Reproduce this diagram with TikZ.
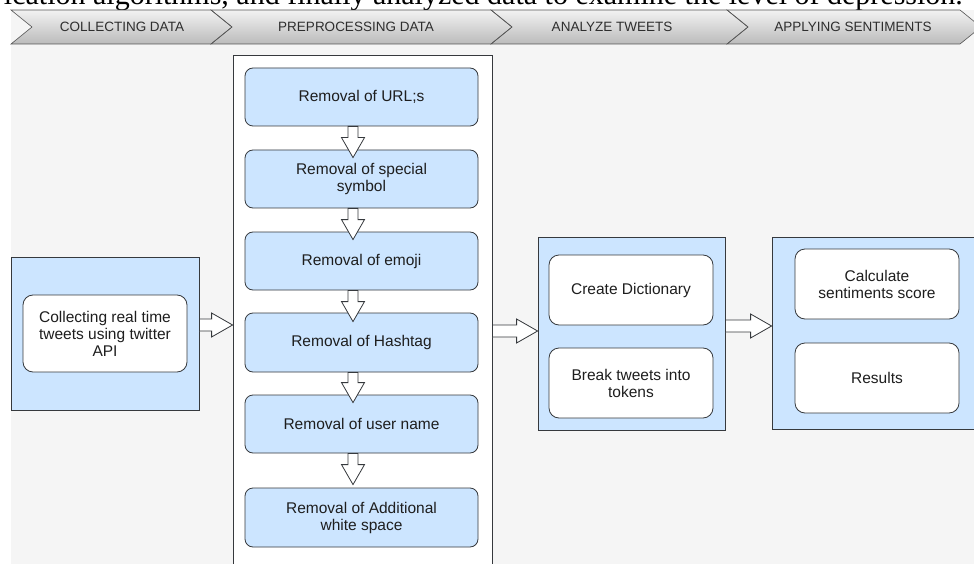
\documentclass[tikz,border=0pt]{standalone}
\usepackage{fontspec}
\setmainfont{Liberation Sans}
\newfontfamily\captserif{Liberation Serif}
\usetikzlibrary{calc}
\definecolor{bgray}{HTML}{F5F5F5}
\definecolor{lblue}{HTML}{CCE5FF}
\definecolor{edge}{HTML}{36393D}
\definecolor{txt}{HTML}{1E1E1E}
\definecolor{chevtop}{HTML}{F2F2F2}
\definecolor{chevbot}{HTML}{BCBCBC}
\definecolor{chevedge}{HTML}{555555}
\definecolor{chevtext}{HTML}{2E2E2E}
\newcommand\boxfont{\fontsize{15.5}{17}\selectfont}
\newcommand\chevfont{\fontsize{13.5}{15}\selectfont}
\newcommand\harrow[2]{\draw[blk] let \p1=(#1), \p2=(#2) in
  (\x1,\y1+6pt) -- (\x2-21pt,\y1+6pt) -- (\x2-21pt,\y1+12pt) -- (\x2,\y1)
  -- (\x2-21pt,\y1-12pt) -- (\x2-21pt,\y1-6pt) -- (\x1,\y1-6pt) -- cycle;}
\newcommand\varrow[2]{\draw[blk] let \p1=(#1), \p2=(#2) in
  (\x1-5pt,\y1) -- (\x1-5pt,\y2+20pt) -- (\x1-11.5pt,\y2+20pt) -- (\x1,\y2)
  -- (\x1+11.5pt,\y2+20pt) -- (\x1+5pt,\y2+20pt) -- (\x1+5pt,\y1) -- cycle;}
\begin{document}
\begin{tikzpicture}[x=1pt,y=-1pt,
  container/.style={draw=edge, line width=0.8pt, fill=lblue, rectangle, inner sep=0pt},
  whitebox/.style={draw=edge, line width=0.8pt, fill=white, rounded corners=10pt,
    minimum width=164pt, minimum height=70pt, align=center, font=\boxfont, text=txt},
  bluebox/.style={draw=edge, line width=0.8pt, fill=lblue, rounded corners=8pt,
    minimum width=233pt, minimum height=58pt, align=center, font=\boxfont, text=txt},
  chevline/.style={draw=chevedge, line width=0.6pt},
  chevlabel/.style={font=\chevfont, text=chevtext, inner sep=0pt},
  blk/.style={draw=edge, line width=0.8pt, fill=white, line join=miter},
]
\useasboundingbox (0,0) rectangle (974,564);
\clip (0,0) rectangle (974,564);
\fill[bgray] (11,10) rectangle (974,564);

% cut-off caption line at the top
\begin{scope}
  \clip (0,0) rectangle (974,10);
  \node[anchor=base east, inner sep=0pt, font=\captserif\fontsize{30}{30}\selectfont] (cap) at (963,5)
    {ication algorithms, and finally analyzed data to examine the level of depression.};
\end{scope}

% phase chevrons (vertical gradient built from strips)
\begin{scope}
  \clip (11,10) -- (960,10) -- (981,27) -- (960,44) -- (11,44) -- (32,27) -- cycle;
  \foreach \i in {0,...,33} {
    \pgfmathsetmacro\pct{100-3*\i}
    \fill[chevtop!\pct!chevbot] (0,10+\i) rectangle (990,11.2+\i);
  }
\end{scope}
\foreach \a/\b in {11/211, 211/491, 491/727, 727/960} {
  \draw[chevline, line join=miter] (\a,10) -- (\b,10) -- (\b+21,27) -- (\b,44) -- (\a,44) -- (\a+21,27) -- cycle;
}
\node[chevlabel] (h1) at (122,27) {COLLECTING DATA};
\node[chevlabel] (h2) at (356,27) {PREPROCESSING DATA};
\node[chevlabel] (h3) at (612,27) {ANALYZE TWEETS};
\node[chevlabel] (h4) at (853,27) {APPLYING SENTIMENTS};

% collecting
\node[container, minimum width=188pt, minimum height=153pt] (col) at (105,333.5) {};
\node[whitebox, minimum height=77pt] (c1) at (105,333.5) {Collecting real time\\tweets using twitter\\API};

% preprocessing
\node[container, fill=white, minimum width=259pt, minimum height=545pt] (pre) at (362.5,327.5) {};
\node[bluebox] (u1) at (361.5,97) {Removal of URL;s};
\node[bluebox] (u2) at (361.5,179) {Removal of special\\symbol};
\node[bluebox] (u3) at (361.5,261) {Removal of emoji};
\node[bluebox, minimum height=59pt] (u4) at (361.5,342.5) {Removal of Hashtag};
\node[bluebox] (u5) at (361.5,424) {Removal of user name};
\node[bluebox, minimum height=59pt] (u6) at (361.5,517.5) {Removal of Additional\\white space};

% analyze
\node[container, minimum width=187pt, minimum height=193pt] (ana) at (631.5,333.5) {};
\node[whitebox] (a1) at (631,290) {Create Dictionary};
\node[whitebox] (a2) at (631,383) {Break tweets into\\tokens};

% applying
\node[container, minimum width=220pt, minimum height=192pt] (app) at (882,333) {};
\node[whitebox] (p1) at (877,284) {Calculate\\sentiments score};
\node[whitebox] (p2) at (877,378) {Results};

% block arrows
\varrow{$(u1.south)+(-8.5,0)$}{$(u2.north)+(0,8)$}
\varrow{$(u2.south)+(-8.5,0)$}{$(u3.north)+(0,8)$}
\varrow{$(u3.south)+(-8.5,0)$}{$(u4.north)+(0,9)$}
\varrow{$(u4.south)+(-8.5,0)$}{$(u5.north)+(0,8)$}
\varrow{$(u5.south)+(-8.5,0)$}{$(u6.north)+(0,-3)$}
\harrow{$(col.east)+(0,-8.5)$}{pre.west}
\harrow{$(pre.east)+(0,3.5)$}{ana.west}
\harrow{$(ana.east)+(0,-7.5)$}{app.west}
\end{tikzpicture}
\end{document}
